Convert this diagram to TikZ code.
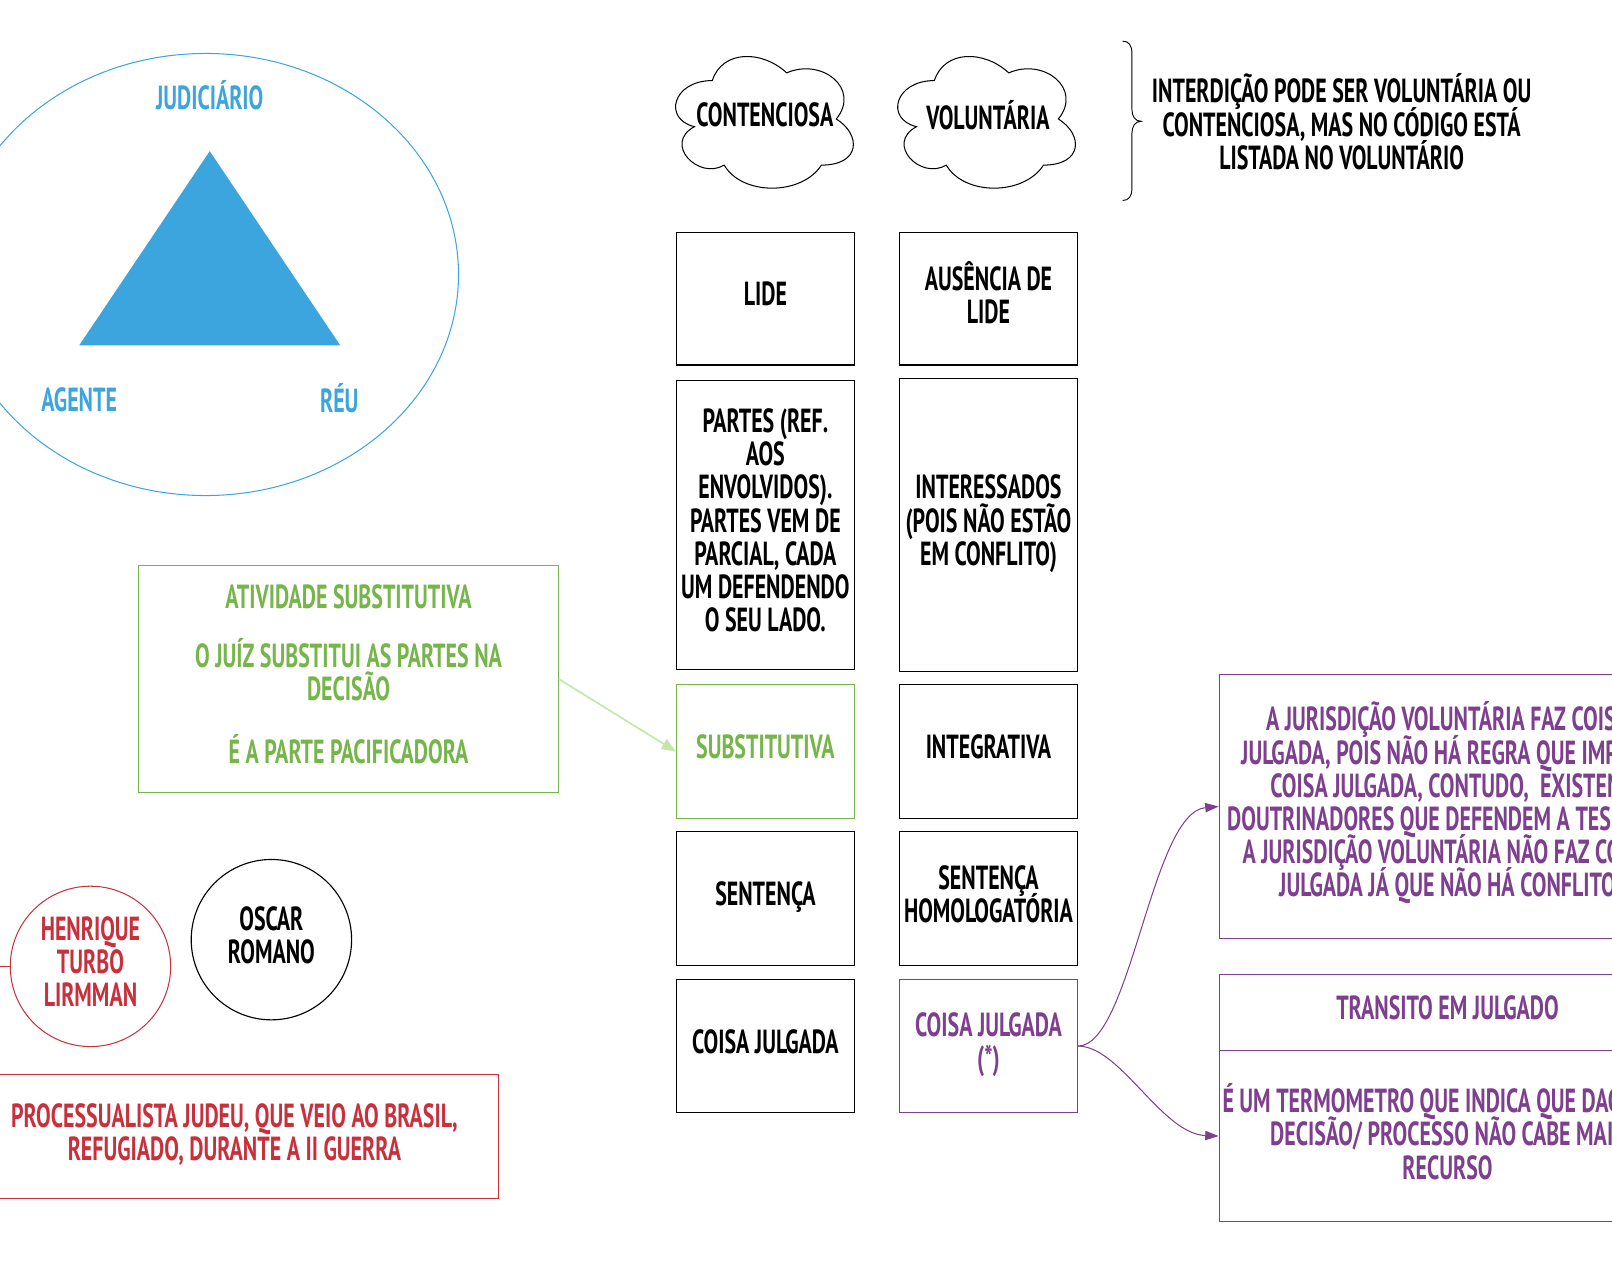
\documentclass[tikz,border=0pt]{standalone}
\usepackage{fontspec}
\setmainfont{PT Sans}[FakeStretch=0.656]
\usetikzlibrary{arrows.meta}
\definecolor{cblue}{HTML}{3DA5DD}
\definecolor{cgreen}{HTML}{76B54A}
\definecolor{cgreenl}{HTML}{C3E6A9}
\definecolor{cpurple}{HTML}{7D3F8E}
\definecolor{cred}{HTML}{C8303C}
\newcommand\cloudpath{(0.25,0.25) .. controls (0.05,0.25) and (0,0.5) .. (0.16,0.55)
  .. controls (0,0.66) and (0.18,0.9) .. (0.31,0.8)
  .. controls (0.4,1) and (0.7,1) .. (0.8,0.8)
  .. controls (1,0.8) and (1,0.6) .. (0.875,0.5)
  .. controls (1,0.3) and (0.8,0.1) .. (0.625,0.2)
  .. controls (0.5,0.05) and (0.3,0.05) .. (0.25,0.25) -- cycle}
\begin{document}
\setlength{\lineskiplimit}{-100pt}%
\begin{tikzpicture}[x=1pt,y=-1pt,
  every node/.style={font=\fontsize{32.5}{32.3}\selectfont\bfseries, align=center, inner sep=0pt},
  boxtext/.style={text depth=9pt},
  cellbox/.style={boxtext, draw=black, line width=1.3pt, minimum width=173pt},
  greenbox/.style={boxtext, draw=cgreen, line width=1.2pt, text=cgreen},
  purplebox/.style={boxtext, draw=cpurple, line width=1.3pt, text=cpurple},
  redbox/.style={boxtext, draw=cred, line width=1.2pt, text=cred},
  person/.style={boxtext, circle, line width=1.1pt, minimum size=156pt},
  cloudline/.style={draw=black, line width=1pt},
  bluelabel/.style={text=cblue},
  parrow/.style={cpurple, line width=1pt, -{Triangle[length=13pt,width=9pt]}},
  garrow/.style={cgreenl, line width=1.6pt, -{Triangle[length=14pt,width=11pt]}}
]
\useasboundingbox (0,0) rectangle (1568,1226.6);

% left: triad
\draw[cblue, line width=1pt] (200,267) ellipse [x radius=246, y radius=215];
\fill[cblue] (204,147) -- (331,336) -- (77,336) -- cycle;
\node[bluelabel] (jud) at (204,93) {JUDICIÁRIO};
\node[bluelabel] (age) at (77,389) {AGENTE};
\node[bluelabel] (reu) at (330,387) {RÉU};

% clouds
\begin{scope}[shift={(644.6,41)}, xscale=193, yscale=149.5]
  \draw[cloudline] \cloudpath;
\end{scope}
\begin{scope}[shift={(860.6,41)}, xscale=193, yscale=149.5]
  \draw[cloudline] \cloudpath;
\end{scope}
\node (cont) at (744,112) {CONTENCIOSA};
\node (volu) at (961,112) {VOLUNTÁRIA};

% brace and note
\draw[line width=0.9pt] (1092,40) .. controls (1098,40) and (1101,44) .. (1101,52) -- (1101,106)
  .. controls (1101,113) and (1104,118) .. (1110,118) .. controls (1104,118) and (1101,123) .. (1101,130)
  -- (1101,183) .. controls (1101,191) and (1098,195) .. (1092,195);
\node (note) at (1305,118.5) {INTERDIÇÃO PODE SER VOLUNTÁRIA OU\\CONTENCIOSA, MAS NO CÓDIGO ESTÁ\\LISTADA NO VOLUNTÁRIO};

% left column
\node[cellbox, minimum height=129pt] (lide) at (744.5,290.5) {LIDE};
\node[cellbox, minimum height=281pt] (partes) at (744.5,510.5) {PARTES (REF.\\AOS\\ENVOLVIDOS).\\PARTES VEM DE\\PARCIAL, CADA\\UM DEFENDENDO\\O SEU LADO.};
\node[cellbox, minimum height=130pt, draw=cgreen, text=cgreen, line width=1pt] (subs) at (744.5,731) {SUBSTITUTIVA};
\node[cellbox, minimum height=130pt] (sent) at (744.5,874) {SENTENÇA};
\node[cellbox, minimum height=129pt] (cj1) at (744.5,1017.5) {COISA JULGADA};

% right column
\node[cellbox, minimum height=129pt, text depth=12pt] (ause) at (961.5,290.5) {AUSÊNCIA DE\\LIDE};
\node[cellbox, minimum height=285pt] (inte) at (961.5,510.5) {INTERESSADOS\\(POIS NÃO ESTÃO\\EM CONFLITO)};
\node[cellbox, minimum height=130pt] (integ) at (961.5,731) {INTEGRATIVA};
\node[cellbox, minimum height=130pt] (homo) at (961.5,874) {SENTENÇA\\HOMOLOGATÓRIA};
\node[cellbox, minimum height=129pt, draw=cpurple, text=cpurple, line width=1pt] (cj2) at (961.5,1017.5) {COISA JULGADA\\(*)};

% green note
\node[greenbox, minimum width=408pt, minimum height=221pt] (gnote) at (339,660.5)
  {ATIVIDADE SUBSTITUTIVA\\[25pt]O JUÍZ SUBSTITUI AS PARTES NA\\DECISÃO\\[29pt]É A PARTE PACIFICADORA};
\draw[garrow] (gnote.east) -- (subs.west);

% purple notes
\node[purplebox, minimum width=444pt, minimum height=257pt, text depth=14pt] (p1) at (1408,784.5)
  {A JURISDIÇÃO VOLUNTÁRIA FAZ COISA\\JULGADA, POIS NÃO HÁ REGRA QUE IMPEÇA\\COISA JULGADA, CONTUDO,~~EXISTEM\\DOUTRINADORES QUE DEFENDEM A TESE QUE\\A JURISDIÇÃO VOLUNTÁRIA NÃO FAZ COISA\\JULGADA JÁ QUE NÃO HÁ CONFLITO};
\node[purplebox, minimum width=444pt, minimum height=74pt] (p2) at (1408,985) {TRANSITO EM JULGADO};
\node[purplebox, minimum width=444pt, minimum height=166pt] (p3) at (1408,1105)
  {É UM TERMOMETRO QUE INDICA QUE DAQUELA\\DECISÃO/ PROCESSO NÃO CABE MAIS\\RECURSO};
\draw[parrow] (cj2.east) .. controls (1100,1017.5) and (1120,790) .. (p1.west);
\draw[parrow] (cj2.east) .. controls (1090,1017.5) and (1130,1103) .. (p3.west);

% people
\node[person, draw=cred, text=cred, line width=1pt] (hen) at (88,940) {HENRIQUE\\TURBO\\LIRMMAN};
\coordinate (henin) at (-20,940);
\draw[cred, line width=1pt] (henin) -- (hen.west);
\node[person, draw=black] (osc) at (264,914) {OSCAR\\ROMANO};
\node[redbox, minimum width=514pt, minimum height=121pt] (rnote) at (228,1105.5)
  {PROCESSUALISTA JUDEU, QUE VEIO AO BRASIL,\\REFUGIADO, DURANTE A II GUERRA};
\end{tikzpicture}
\end{document}
